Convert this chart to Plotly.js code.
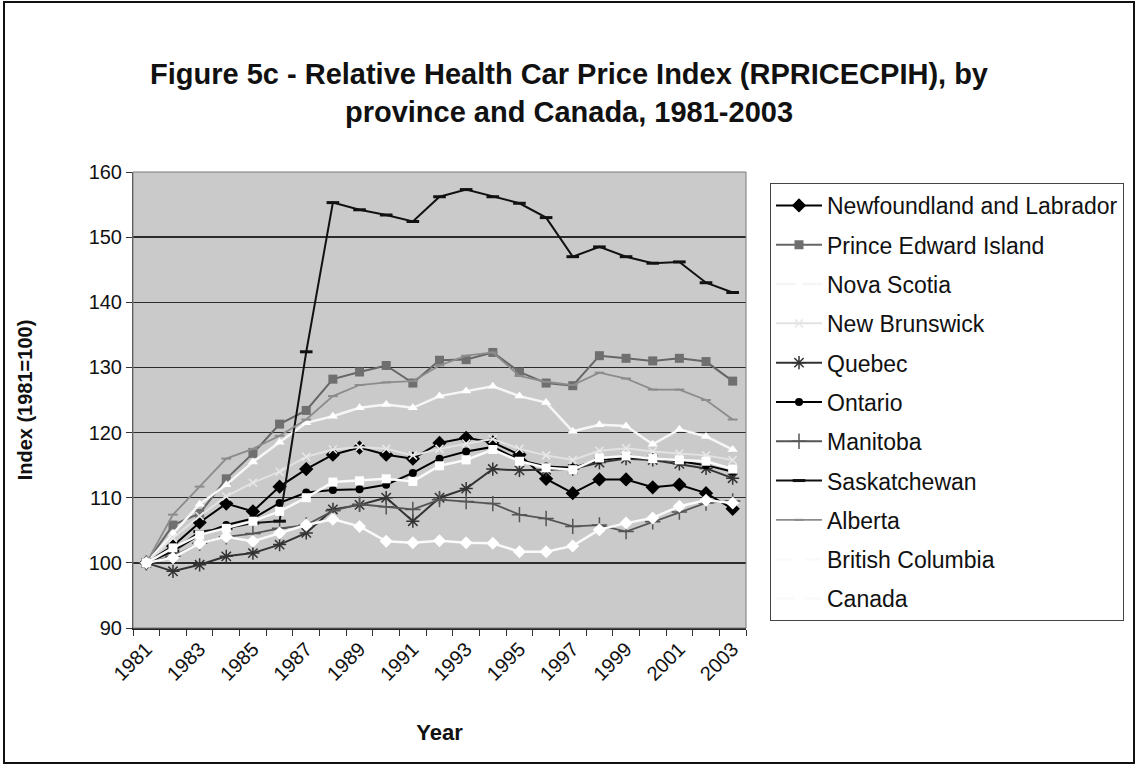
<!DOCTYPE html>
<html>
<head>
<meta charset="utf-8">
<script src="https://cdn.plot.ly/plotly-3.0.1.min.js"></script>
<style>
  html, body { margin: 0; padding: 0; background: #fff; }
  #wrap { position: relative; width: 1138px; height: 778px; }
  #chart { width: 1138px; height: 778px; }
  #frame { position: absolute; left: 3px; top: 1px; width: 1128px; height: 759px;
           border: 2px solid #111; pointer-events: none; }
</style>
</head>
<body>
<div id="wrap"><div id="chart"></div><div id="frame"></div></div>
<script>
// ---- data ----
const years = [1981,1982,1983,1984,1985,1986,1987,1988,1989,1990,1991,1992,1993,1994,1995,1996,1997,1998,1999,2000,2001,2002,2003];
const tickYears = [1981,1983,1985,1987,1989,1991,1993,1995,1997,1999,2001,2003];
const tickLabels = ["1981","1983","1985","1987","1989","1991","1993","1995","1997","1999","2001","2003"];

const newfoundland = [100,102.6,106.2,109.1,107.9,111.7,114.4,116.6,117.7,116.6,116.0,118.4,119.2,118.5,116.6,112.9,110.7,112.8,112.8,111.6,112.0,110.7,108.3];
const princeEdward = [100,105.8,107.6,112.9,116.8,121.3,123.4,128.2,129.3,130.3,127.6,131.1,131.2,132.3,129.3,127.6,127.2,131.8,131.4,131.0,131.4,130.9,127.9];
const novaScotia   = [100,104.5,109.0,112.0,115.5,118.5,121.5,122.5,123.8,124.3,123.8,125.6,126.4,127.1,125.6,124.6,120.2,121.2,121.0,118.2,120.5,119.4,117.4];
const newBrunswick = [100,103.8,107.2,110.2,112.3,114.0,116.3,117.4,117.8,117.5,116.5,117.5,118.3,119.0,117.5,116.5,115.8,117.2,117.6,117.1,116.8,116.5,115.8];
const quebec       = [100,98.7,99.7,101.0,101.5,102.8,104.6,108.2,108.9,110.0,106.4,110.0,111.4,114.4,114.2,114.3,114.4,115.4,116.0,115.8,115.2,114.5,113.0];
const ontario      = [100,101.8,104.3,105.8,106.8,109.2,110.8,111.2,111.3,112.0,113.8,116.0,117.1,117.8,115.8,114.8,114.6,115.8,116.2,116.0,115.6,115.0,114.0];
const manitoba     = [100,101.0,103.0,104.0,104.5,105.3,105.8,108.0,109.0,108.6,108.2,109.7,109.4,109.1,107.4,106.8,105.6,105.8,104.8,106.3,107.8,109.2,109.5];
const saskatchewan = [100,101.8,104.8,105.3,106.1,106.4,132.4,155.3,154.2,153.4,152.4,156.2,157.3,156.2,155.2,153.0,147.0,148.5,147.0,146.0,146.2,143.0,141.5];
const alberta      = [100,107.4,111.7,116.0,117.5,119.5,122.0,125.6,127.3,127.7,127.9,130.3,131.8,132.3,128.7,127.8,127.3,129.2,128.3,126.6,126.6,125.0,122.0];
const britishCol   = [100,100.8,103.0,104.0,103.3,104.6,105.8,106.7,105.6,103.3,103.1,103.4,103.1,103.0,101.7,101.7,102.6,105.1,106.1,106.9,108.7,109.6,109.2];
const canada       = [100,102.3,104.3,105.3,106.4,107.9,110.0,112.4,112.6,112.9,112.5,114.9,115.8,117.4,115.6,114.6,114.3,116.1,116.4,116.0,115.8,115.6,114.4];

const names = ["Newfoundland and Labrador","Prince Edward Island","Nova Scotia","New Brunswick","Quebec","Ontario","Manitoba","Saskatchewan","Alberta","British Columbia","Canada"];
const seriesValues = [newfoundland,princeEdward,novaScotia,newBrunswick,quebec,ontario,manitoba,saskatchewan,alberta,britishCol,canada];

// ---- styles ----
const styles = [
  {lc:'#000000', lw:2,   sym:'diamond',          ms:11, mc:'#000000', ml:0},
  {lc:'#666666', lw:2,   sym:'square',           ms:9,  mc:'#6f6f6f', ml:0},
  {lc:'#f6f6f6', lw:2.5, sym:'triangle-up',      ms:9,  mc:'#ffffff', ml:0},
  {lc:'#e2e2e2', lw:2,   sym:'x-thin-open',      ms:8,  mc:'#e8e8e8', ml:1.5},
  {lc:'#333333', lw:2,   sym:'asterisk-open',    ms:11, mc:'#333333', ml:1.5},
  {lc:'#000000', lw:2,   sym:'circle',           ms:8,  mc:'#000000', ml:0},
  {lc:'#555555', lw:1.8, sym:'cross-thin-open',  ms:11, mc:'#555555', ml:1.5},
  {lc:'#111111', lw:2,   sym:'line-ew-open',     ms:9,  mc:'#111111', ml:3},
  {lc:'#8c8c8c', lw:1.8, sym:'line-ew-open',     ms:7,  mc:'#8c8c8c', ml:2},
  {lc:'#fafafa', lw:2.5, sym:'diamond',          ms:10, mc:'#ffffff', ml:0},
  {lc:'#fafafa', lw:2.5, sym:'square',           ms:9,  mc:'#ffffff', ml:0}
];

const traces = names.map((n, i) => {
  const s = styles[i];
  const mk = {symbol: s.sym, size: s.ms, color: s.mc};
  if (s.ml) mk.line = {color: s.mc, width: s.ml};
  return {
    type: 'scatter', mode: 'lines+markers', name: n,
    x: years, y: seriesValues[i],
    line: {color: s.lc, width: s.lw},
    marker: mk,
    legendgroup: 'g' + i
  };
});

const boundaries = years.map(y => y - 0.5).concat([years[years.length - 1] + 0.5]);

const FONT = 'Liberation Sans, Arial, Helvetica, sans-serif';
const L = 133, R = 746, T = 172, B = 628;

const layout = {
  width: 1138, height: 778,
  margin: {l: L, r: 1138 - R, t: T, b: 778 - B, pad: 0},
  paper_bgcolor: '#ffffff',
  plot_bgcolor: '#cacaca',
  font: {family: FONT, color: '#111', size: 20},
  title: {
    text: '<b>Figure 5c - Relative Health Car Price Index (RPRICECPIH), by<br>province and Canada, 1981-2003</b>',
    font: {family: FONT, size: 29, color: '#111'},
    xref: 'container', x: 0.5, xanchor: 'center',
    yref: 'container', y: 1 - 84 / 778, yanchor: 'top'
  },
  showlegend: true,
  legend: {
    x: (770 - L) / (R - L), xanchor: 'left',
    y: (B - 183) / (B - T), yanchor: 'top',
    bgcolor: '#ffffff', bordercolor: '#444', borderwidth: 1,
    font: {family: FONT, size: 23, color: '#111'},
    traceorder: 'grouped', tracegroupgap: 6.4,
    itemwidth: 46
  },
  xaxis: {
    type: 'linear', range: [1980.5, 2003.5],
    tickmode: 'array', tickvals: tickYears, ticktext: tickLabels,
    tickangle: -45, ticks: '', tickfont: {family: FONT, size: 20, color: '#111'},
    minor: {tickmode: 'array', tickvals: boundaries, ticks: 'outside', ticklen: 6, tickcolor: '#333', tickwidth: 1, showgrid: false},
    showgrid: false, zeroline: false,
    showline: true, linecolor: '#222', linewidth: 1.5,
    title: {text: '<b>Year</b>', font: {family: FONT, size: 22, color: '#111'}, standoff: 40}
  },
  yaxis: {
    range: [90, 160], tickmode: 'linear', tick0: 90, dtick: 10,
    ticks: 'outside', ticklen: 6, tickcolor: '#333',
    tickfont: {family: FONT, size: 20, color: '#111'},
    showgrid: true, gridcolor: '#2b2b2b', gridwidth: 1.5,
    zeroline: false, showline: true, linecolor: '#444', linewidth: 1,
    title: {text: '<b>Index (1981=100)</b>', font: {family: FONT, size: 20, color: '#111'}, standoff: 50}
  },
  shapes: [
    {type: 'rect', xref: 'paper', yref: 'paper', x0: 0, x1: 1, y0: 0, y1: 1,
     line: {color: '#7a7a7a', width: 1}, layer: 'above'}
  ]
};

Plotly.newPlot('chart', traces, layout, {displayModeBar: false, staticPlot: true});
</script>
</body>
</html>
